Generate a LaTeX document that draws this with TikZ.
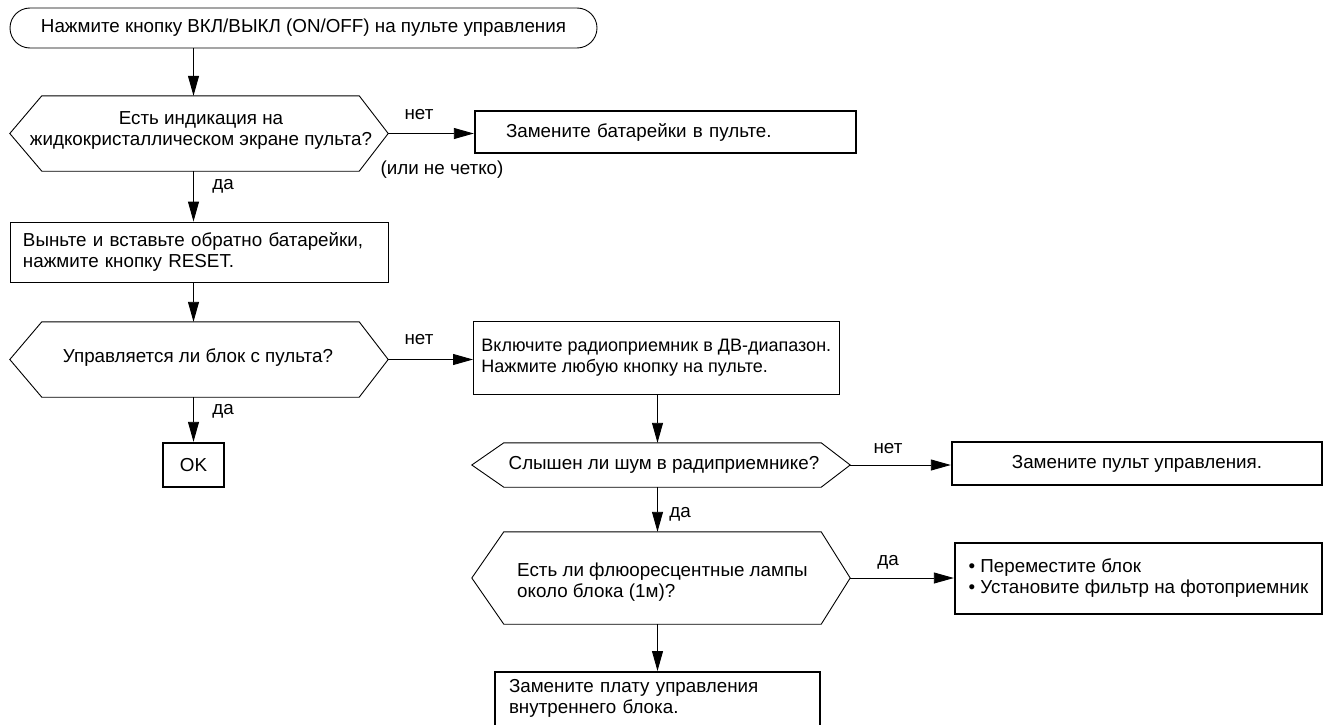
\documentclass[tikz,border=0pt]{standalone}
\usepackage{fontspec}
\setmainfont{Liberation Sans}
\usetikzlibrary{positioning, arrows.meta}

\begin{document}
\begin{tikzpicture}[
    x=1pt, y=-1pt,
    font=\fontsize{18.8}{21}\selectfont,
    % Styles for the blocks
    terminal/.style={rectangle, draw=black, line width=0.9pt, rounded corners=20pt, minimum width=587pt, minimum height=40pt},
    process/.style={rectangle, draw=black, line width=0.9pt, align=left, inner ysep=0pt},
    result/.style={rectangle, draw=black, line width=2.4pt, align=left, inner ysep=0pt},
    hexbox/.style={rectangle, inner sep=0pt},
    answer/.style={inner sep=1pt},
    arrow/.style={-{Triangle[length=20pt, width=11pt]}, line width=0.9pt}
]
\useasboundingbox (0,0) rectangle (1325,725);

% --- Nodes ---

% Start
\node[terminal] (start) at (303.5,28) {Нажмите кнопку ВКЛ/ВЫКЛ (ON/OFF) на пульте управления};

% Display check
\node[hexbox, minimum width=378pt, minimum height=75pt] (q1) at (199,133.5) {};
\node[align=center] (q1text) at (201,130) {Есть индикация на\\жидкокристаллическом экране пульта?};
\node[result, text width=319pt, inner xsep=31pt, minimum height=42pt] (b1) at (665.5,132) {Замените батарейки в пульте.};

% Reset
\node[process, text width=352pt, inner xsep=13pt, minimum height=60pt] (reset) at (199,252) {Выньте и вставьте обратно батарейки,\\нажмите кнопку RESET.};

% Remote control check
\node[hexbox, minimum width=378pt, minimum height=75pt] (q2) at (199,359.5) {};
\node (q2text) at (198,358) {Управляется ли блок с пульта?};
\node[result, minimum width=61pt, minimum height=44pt, align=center] (ok) at (193.5,465) {OK};
\node[process, minimum height=73pt, inner xsep=8pt, anchor=west, font=\fontsize{18}{21}\selectfont] (radio) at (473,357.5) {Включите радиоприемник в ДВ-диапазон.\\Нажмите любую кнопку на пульте.};

% Noise check
\node[hexbox, minimum width=378pt, minimum height=44pt] (q3) at (661,465) {};
\node (q3text) at (664,465) {Слышен ли шум в радиприемнике?};
\node[result, minimum width=370pt, minimum height=43pt, align=center] (b2) at (1137,463.5) {Замените пульт управления.};

% Lamp check
\node[hexbox, minimum width=378pt, minimum height=92pt] (q4) at (661,578) {};
\node[align=left, anchor=west, inner sep=0pt] (q4text) at (517,582.5) {Есть ли флюоресцентные лампы\\около блока (1м)?};
\node[result, minimum width=367pt, minimum height=71pt] (b3) at (1138.5,578.5) {• Переместите блок\\• Установите фильтр на фотоприемник};
\node[result, text width=297pt, inner xsep=14pt, inner ysep=7pt, text depth=40pt, anchor=north] (b4) at (657.5,671) {Замените плату управления\\внутреннего блока.};

% Hexagon outlines
\foreach \q in {q1,q2,q3,q4}
  \draw[line width=0.9pt] (\q.west) -- ([xshift=32pt]\q.north west) -- ([xshift=-29pt]\q.north east) -- (\q.east) -- ([xshift=-29pt]\q.south east) -- ([xshift=32pt]\q.south west) -- cycle;

% --- Arrows ---
\draw[arrow] (start.south -| ok.north) -- (q1.north -| ok.north);
\draw[arrow] (q1.east) -- (q1.east -| b1.west);
\draw[arrow] (q1.south -| ok.north) -- (reset.north -| ok.north);
\draw[arrow] (reset.south -| ok.north) -- (q2.north -| ok.north);
\draw[arrow] (q2.east) -- (q2.east -| radio.west);
\draw[arrow] (q2.south -| ok.north) -- (ok.north);
\draw[arrow] (radio.south -| b4.north) -- (q3.north -| b4.north);
\draw[arrow] (q3.east) -- (q3.east -| b2.west);
\draw[arrow] (q3.south -| b4.north) -- (q4.north -| b4.north);
\draw[arrow] (q4.east) -- (q4.east -| b3.west);
\draw[arrow] (q4.south -| b4.north) -- (b4.north);

% --- Answers ---
\node[answer] (no1) at (419,115) {нет};
\node[answer] (unclear) at (442,170) {(или не четко)};
\node[answer] (yes1) at (223,186) {да};
\node[answer] (no2) at (419,340) {нет};
\node[answer] (yes2) at (223,411) {да};
\node[answer] (no3) at (888,449) {нет};
\node[answer] (yes3) at (680,514) {да};
\node[answer] (yes4) at (888,562) {да};

\end{tikzpicture}
\end{document}
